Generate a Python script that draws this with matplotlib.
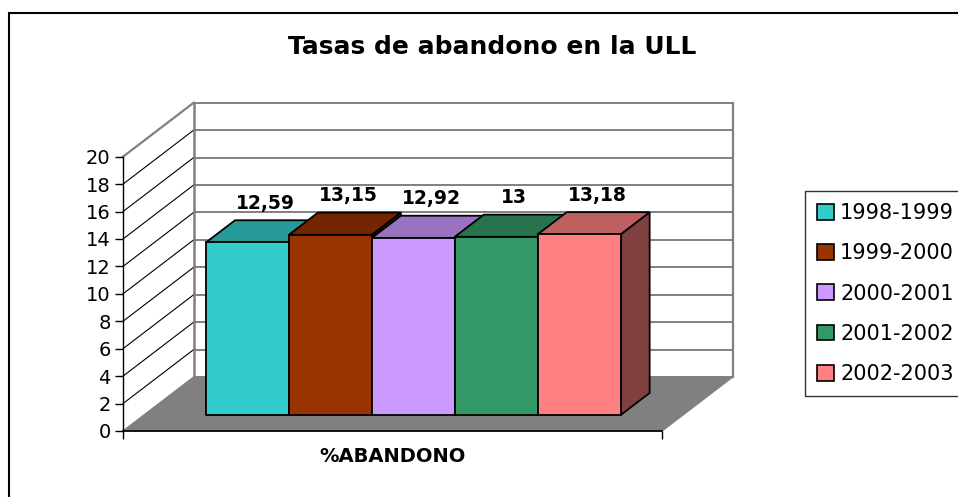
import matplotlib
matplotlib.use("Agg")
import matplotlib.pyplot as plt
from matplotlib.patches import Polygon, Patch, Rectangle
from matplotlib.colors import to_rgb

# ---------------- data ----------------
title = "Tasas de abandono en la ULL"
category = "%ABANDONO"
series = ["1998-1999", "1999-2000", "2000-2001", "2001-2002", "2002-2003"]
values = [12.59, 13.15, 12.92, 13.0, 13.18]
value_labels = ["12,59", "13,15", "12,92", "13", "13,18"]
colors = ["#33CCCC", "#993300", "#CC99FF", "#339966", "#FF8080"]
yticks = list(range(0, 21, 2))

# ---------------- figure ----------------
W, H = 958, 497
fig = plt.figure(figsize=(W / 100, H / 100), dpi=100)
fig.patch.set_facecolor("white")

# front plane axes (value axis 0..20, category plane 0..1)
ax = fig.add_axes([123 / W, 66 / H, 539 / W, 274.3 / H])
ax.set_xlim(0, 1)
ax.set_ylim(0, 20)
ax.patch.set_visible(False)

# oblique depth offsets (in data units)
DX = 70.7 / 539
DY = 54 / 274.3 * 20


def P(x, y, z):
    return (x + z * DX, y + z * DY)


def shade(c, f):
    r, g, b = to_rgb(c)
    return (r * f, g * f, b * f)


wallgray = "#808080"

# back wall gridlines
for v in yticks:
    ax.plot(*zip(P(0, v, 1), P(1, v, 1)), color=wallgray, lw=1.4,
            clip_on=False, zorder=1)
# side wall gridlines
for v in yticks[1:-1]:
    ax.plot(*zip(P(0, v, 0), P(0, v, 1)), color="black", lw=0.8,
            clip_on=False, zorder=1)
ax.plot(*zip(P(0, 20, 0), P(0, 20, 1)), color=wallgray, lw=1.6,
        clip_on=False, zorder=1)
# wall verticals
ax.plot(*zip(P(0, 0, 1), P(0, 20, 1)), color=wallgray, lw=1.8,
        clip_on=False, zorder=1)
ax.plot(*zip(P(1, 0, 1), P(1, 20, 1)), color=wallgray, lw=1.6,
        clip_on=False, zorder=1)

# floor
floor = Polygon([P(0, 0, 0), P(1, 0, 0), P(1, 0, 1), P(0, 0, 1)], closed=True,
                facecolor=wallgray, edgecolor=wallgray, lw=1, clip_on=False,
                zorder=2)
ax.add_patch(floor)

# bars
n = len(values)
w = 1 / (n + 1.5)
gap = 0.75 * w
z0, z1 = 0.295, 0.705
for i, (v, c, lab) in enumerate(zip(values, colors, value_labels)):
    x0 = gap + i * w
    x1 = x0 + w
    zo = 3 + i
    side = Polygon([P(x1, 0, z0), P(x1, 0, z1), P(x1, v, z1), P(x1, v, z0)],
                   closed=True, facecolor=shade(c, 0.5), edgecolor="black",
                   lw=1.3, clip_on=False, zorder=zo, joinstyle="miter")
    top = Polygon([P(x0, v, z0), P(x1, v, z0), P(x1, v, z1), P(x0, v, z1)],
                  closed=True, facecolor=shade(c, 0.75), edgecolor="black",
                  lw=1.3, clip_on=False, zorder=zo, joinstyle="miter")
    front = Polygon([P(x0, 0, z0), P(x1, 0, z0), P(x1, v, z0), P(x0, v, z0)],
                    closed=True, facecolor=c, edgecolor="black", lw=1.3,
                    clip_on=False, zorder=zo, joinstyle="miter")
    ax.add_patch(side)
    ax.add_patch(top)
    ax.add_patch(front)
    lx, ly = P((x0 + x1) / 2 + 0.006, v + 2.05, 0.5)
    ax.text(lx, ly, lab, ha="center", va="center", fontsize=13.5,
            fontweight="bold", zorder=20)

# axes styling
for s in ("top", "right"):
    ax.spines[s].set_visible(False)
ax.spines["left"].set_color("black")
ax.spines["bottom"].set_color("black")
ax.spines["left"].set_linewidth(1.0)
ax.spines["bottom"].set_linewidth(1.2)
ax.spines["bottom"].set_zorder(15)
ax.set_yticks(yticks)
ax.set_yticklabels([str(t) for t in yticks])
ax.tick_params(axis="y", direction="out", length=6, width=1, labelsize=14,
               pad=3, colors="black")
ax.set_xticks([0, 1])
ax.set_xticklabels(["", ""])
ax.tick_params(axis="x", direction="out", length=6, width=1)
ax.text(0.5, -25 / 274.3, category, transform=ax.transAxes, ha="center",
        va="center", fontsize=14, fontweight="bold")

# title
fig.text(491.7 / W, 1 - 47.5 / H, title, ha="center", va="center",
         fontsize=18, fontweight="bold")

# legend
handles = [Patch(facecolor=c, edgecolor="black", lw=1.2) for c in colors]
leg = fig.legend(handles, series, loc="upper left",
                 bbox_to_anchor=(805 / W, 1 - 191 / H), frameon=True,
                 fancybox=False, edgecolor="black", fontsize=15,
                 handlelength=0.8, handleheight=0.8, handletextpad=0.3,
                 labelspacing=0.97, borderpad=0.58, borderaxespad=0)
leg.get_frame().set_linewidth(1.0)

# chart border
fig.add_artist(Rectangle((9 / W, -0.2), 1.2, (H - 13) / H + 0.2,
                         transform=fig.transFigure, fill=False,
                         edgecolor="black", lw=1.5))

fig.savefig("out.png", dpi=100)
